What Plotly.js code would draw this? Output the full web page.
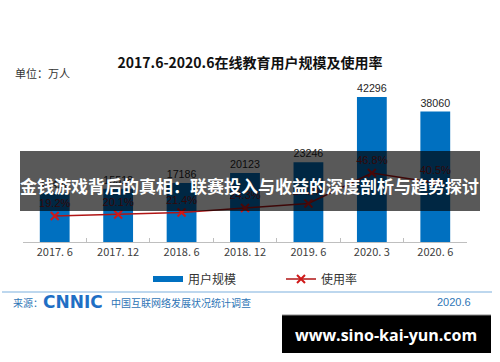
<!DOCTYPE html>
<html>
<head>
<meta charset="utf-8">
<script src="https://cdn.plot.ly/plotly-3.0.1.min.js"></script>
<style>html,body{margin:0;padding:0;background:#fff;}#chart{width:500px;height:362px;}</style>
</head>
<body>
<div id="chart"></div>
<script>
// ---- data ----
const categories = ["2017. 6", "2017. 12", "2018. 6", "2018. 12", "2019. 6", "2020. 3", "2020. 6"];
const userScale = [14426, 15518, 17186, 20123, 23246, 42296, 38060];   // 万人
const usageRate = [19.2, 20.1, 21.4, 24.3, 27.2, 46.8, 40.5];           // %
const rateLabels = usageRate.map(v => v.toFixed(1) + "%");
const titleText = "2017.6-2020.6在线教育用户规模及使用率";
const unitText = "单位：万人";
const seriesNames = ["用户规模", "使用率"];
const bannerText = "金钱游戏背后的真相：联赛投入与收益的深度剖析与趋势探讨";
const sourceLabel = "来源：";
const sourceOrg = "中国互联网络发展状况统计调查";
const sourceDate = "2020.6";
const watermark = "www.sino-kai-yun.com";

// ---- layout geometry (pixels) ----
const W = 500, H = 362;
const L = 23, R = 467, T = 70, B = 242;
const px = x => (x - L) / (R - L);
const py = y => (B - y) / (B - T);
const CJK = '"Noto Sans CJK SC", "Noto Sans", sans-serif';
const blue = "#0070C0";
const darkRed = "#B01515";

const traces = [
  {
    type: "bar", x: categories, y: userScale, name: seriesNames[0],
    marker: {color: blue}, showlegend: false,
    text: userScale.map(String), textposition: "outside", cliponaxis: false,
    textfont: {family: "Liberation Sans, Arial, sans-serif", size: 11, color: "#262626"},
    hoverinfo: "x+y"
  },
  {
    type: "scatter", x: [null], y: [null], name: seriesNames[0], mode: "lines",
    line: {color: blue, width: 6}, hoverinfo: "skip"
  },
  {
    type: "scatter", x: categories, y: usageRate, yaxis: "y2", name: seriesNames[1],
    mode: "lines+markers+text", text: rateLabels, textposition: "top center",
    textfont: {family: "Liberation Sans, Arial, sans-serif", size: 11, color: "#8B1A1A"},
    line: {color: darkRed, width: 1.5},
    marker: {symbol: "x-thin", size: 8, line: {color: "#D01818", width: 2}, color: "#D01818"},
    cliponaxis: false
  }
];

const layout = {
  width: W, height: H,
  margin: {l: L, r: W - R, t: T, b: H - B, pad: 0},
  paper_bgcolor: "#fff", plot_bgcolor: "#fff",
  font: {family: CJK, color: "#333"},
  title: {
    text: "<b>" + titleText + "</b>", x: 0.5, xanchor: "center",
    y: 1 - 63 / H, yanchor: "middle", yref: "container",
    font: {family: CJK, size: 14, color: "#111"}
  },
  bargap: 0.53,
  xaxis: {
    type: "category", range: [-0.5, 6.5], showline: true, linecolor: "#BFBFBF", linewidth: 1,
    ticks: "inside", tickson: "boundaries", ticklen: 4, tickcolor: "#BFBFBF",
    tickfont: {family: CJK, size: 11, color: "#404040"}, showgrid: false, zeroline: false,
    fixedrange: true
  },
  yaxis: {range: [0, (B - T) / 0.003428], visible: false, showgrid: false, zeroline: false},
  yaxis2: {range: [2.5, 2.5 + (B - T) / 1.558], overlaying: "y", visible: false, showgrid: false, zeroline: false},
  showlegend: true,
  legend: {
    orientation: "h", x: px(148), xanchor: "left", y: py(279), yanchor: "middle",
    font: {family: CJK, size: 12, color: "#333"}, bgcolor: "rgba(0,0,0,0)",
    entrywidth: 88, entrywidthmode: "pixels", itemwidth: 30
  },
  shapes: [
    {type: "rect", xref: "paper", yref: "paper", x0: px(20), x1: px(480), y0: py(151), y1: py(211),
     fillcolor: "rgba(0,0,0,0.65)", line: {width: 0}, layer: "above"},
    {type: "line", xref: "paper", yref: "paper", x0: px(2), x1: px(492), y0: py(292), y1: py(292),
     line: {color: "#BDD7EE", width: 2}, layer: "above"},
    {type: "rect", xref: "paper", yref: "paper", x0: px(282), x1: px(491), y0: py(315), y1: py(353),
     fillcolor: "#000", line: {width: 0}, layer: "above"},
    {type: "line", xref: "paper", yref: "paper", x0: px(282), x1: px(491), y0: py(315), y1: py(315),
     line: {color: "#888", width: 1}, layer: "above"}
  ],
  annotations: [
    {text: unitText, xref: "paper", yref: "paper", x: px(13), y: py(73), xanchor: "left", yanchor: "middle",
     showarrow: false, font: {family: CJK, size: 11, color: "#333"}},
    {text: "<b>" + bannerText + "</b>", xref: "paper", yref: "paper", x: px(249), y: py(185),
     xanchor: "center", yanchor: "middle", showarrow: false,
     font: {family: CJK, size: 17, color: "#fff"}},
    {text: sourceLabel, xref: "paper", yref: "paper", x: px(11), y: py(302), xanchor: "left", yanchor: "middle",
     showarrow: false, font: {family: CJK, size: 10, color: "#2E75B6"}},
    {text: "<b>CNNIC</b>", xref: "paper", yref: "paper", x: px(41), y: py(302), xanchor: "left", yanchor: "middle",
     showarrow: false, font: {family: "DejaVu Sans, Liberation Sans, sans-serif", size: 17, color: "#1F6FC5"}},
    {text: sourceOrg, xref: "paper", yref: "paper", x: px(109), y: py(302), xanchor: "left", yanchor: "middle",
     showarrow: false, font: {family: CJK, size: 10, color: "#2E75B6"}},
    {text: sourceDate, xref: "paper", yref: "paper", x: px(473), y: py(302), xanchor: "right", yanchor: "middle",
     showarrow: false, font: {family: "Liberation Sans, Arial, sans-serif", size: 11, color: "#2E75B6"}},
    {text: "<b>" + watermark + "</b>", xref: "paper", yref: "paper", x: px(386), y: py(335), xanchor: "center", yanchor: "middle",
     showarrow: false, font: {family: "Open Sans, DejaVu Sans, sans-serif", size: 16, color: "#fff"}}
  ]
};

Plotly.newPlot("chart", traces, layout, {displayModeBar: false, staticPlot: true});
</script>
</body>
</html>
